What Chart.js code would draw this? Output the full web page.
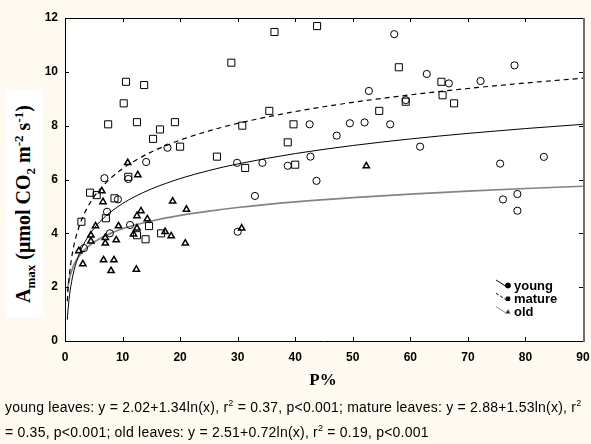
<!DOCTYPE html>
<html>
<head>
<meta charset="utf-8">
<script src="https://cdn.jsdelivr.net/npm/chart.js@4.4.1/dist/chart.umd.min.js"></script>
<style>
  body { margin: 0; background: #fffaef; }
  #wrap { position: relative; width: 591px; height: 444px; overflow: hidden; }
  #chart { position: absolute; left: 0; top: 0; }
  .ytitle { position: absolute; left: 6px; top: 90px; width: 37px; height: 227px; background: #fff; }
  .ytitle span {
    position: absolute; left: 50%; top: 50%;
    transform: translate(-50%, -50%) rotate(-90deg);
    white-space: nowrap; font: bold 20px "Liberation Serif", "Times New Roman", serif; color: #000;
  }
  .ytitle sub, .ytitle sup { font-size: 13px; }
  .xtitle { position: absolute; left: 0; width: 646px; top: 370px; text-align: center;
    font: bold 17px "Liberation Serif", "Times New Roman", serif; }
  .caption { position: absolute; left: 5px; white-space: nowrap; letter-spacing: 0.22px;
    font: 14px "Liberation Sans", Arial, sans-serif; color: #000; }
  .caption sup { font-size: 9px; }
</style>
</head>
<body>
<div id="wrap">
  <canvas id="chart" width="591" height="444"></canvas>
  <div class="ytitle"><span>A<sub>max</sub> (μmol CO<sub>2</sub> m<sup>-2</sup> s<sup>-1</sup>)</span></div>
  <div class="xtitle">P%</div>
  <div class="caption" style="top:398px">young leaves: y = 2.02+1.34ln(x), r<sup>2</sup> = 0.37, p&lt;0.001; mature leaves: y = 2.88+1.53ln(x), r<sup>2</sup></div>
  <div class="caption" style="top:423px">= 0.35, p&lt;0.001; old leaves: y = 2.51+0.72ln(x), r<sup>2</sup> = 0.19, p&lt;0.001</div>
</div>
<script>
// measured leaves, P% vs Amax
const youngX = [14.1, 17.8, 6.85, 11.0, 9.2, 7.3, 11.3, 7.8, 3.3, 29.9, 34.3, 38.7, 42.65, 42.5, 33.0, 30.0,
  57.2, 62.85, 52.8, 59.2, 49.5, 52.05, 56.5, 47.2, 61.7, 43.7, 66.7, 72.2, 78.1, 75.6, 83.2, 76.1, 78.6, 78.6];
const youngY = [6.65, 7.18, 6.05, 6.02, 5.26, 4.80, 4.31, 4.0, 3.45, 6.62, 6.62, 6.51, 6.85, 8.05, 5.39, 4.06,
  11.40, 9.92, 9.29, 8.95, 8.09, 8.12, 8.05, 7.63, 7.22, 5.95, 9.57, 9.66, 10.24, 6.59, 6.84, 5.26, 5.46, 4.84];

const matureX = [10.6, 13.75, 10.2, 7.5, 12.5, 16.5, 19.1, 15.3, 20.0, 11.0, 4.35, 5.5, 8.6, 7.1, 2.85, 14.6,
  12.5, 14.0, 16.7, 36.4, 28.9, 35.5, 30.8, 39.7, 38.7, 26.4, 31.3, 40.0, 43.8, 58.0, 59.2, 54.6, 65.4, 65.6, 67.6];
const matureY = [9.63, 9.51, 8.83, 8.05, 8.13, 7.86, 8.13, 7.51, 7.22, 6.10, 5.51, 5.42, 5.30, 4.56, 4.43, 4.27,
  3.93, 3.78, 4.0, 11.48, 10.34, 8.55, 8.0, 8.05, 7.38, 6.85, 6.43, 6.55, 11.70, 10.17, 8.89, 8.55, 9.63, 9.13, 8.83];

const oldX = [10.9, 12.65, 6.4, 6.6, 18.7, 21.1, 13.2, 12.5, 14.3, 5.3, 9.3, 4.5, 12.5, 11.9, 4.5, 8.9, 7.0, 7.0,
  17.4, 18.45, 2.4, 3.1, 6.7, 8.5, 8.0, 12.4, 20.9, 30.7, 52.35];
const oldY = [6.62, 6.17, 5.57, 5.17, 5.19, 4.89, 4.83, 4.65, 4.53, 4.27, 4.27, 3.93, 4.19, 3.97, 3.71, 3.75, 3.84, 3.63,
  4.06, 3.90, 3.35, 2.86, 3.01, 3.01, 2.61, 2.66, 3.63, 4.19, 6.50];

// fitted curves y = a + b ln(x)
const youngFit = { a: 2.02, b: 1.34 };
const matureFit = { a: 2.88, b: 1.53 };
const oldFit = { a: 2.51, b: 0.72 };
const fitX = [0.4, 0.5, 0.6, 0.8, 1, 1.3, 1.6, 2, 2.5, 3, 4, 5, 6, 8, 10, 12, 15, 20, 25, 30, 40, 50, 60, 70, 80, 90];

const xTicks = [0, 10, 20, 30, 40, 50, 60, 70, 80, 90];
const yTicks = [0, 2, 4, 6, 8, 10, 12];

const legendItems = [
  { text: 'young', color: '#000', dash: [], style: 'circle' },
  { text: 'mature', color: '#000', dash: [3, 2], style: 'rect' },
  { text: 'old', color: '#8c8c8c', dash: [], style: 'triangle' }
];

const toPoints = (xs, ys) => xs.map((x, i) => ({ x: x, y: ys[i] }));
const fitPoints = (f) => fitX.map(x => ({ x: x, y: f.a + f.b * Math.log(x) }));

// white plot area, frame and inward tick marks
const framePlugin = {
  id: 'frame',
  beforeDatasetsDraw(chart) {
    const { ctx, chartArea: a } = chart;
    ctx.save();
    ctx.fillStyle = '#fff';
    ctx.fillRect(a.left, a.top, a.right - a.left, a.bottom - a.top);
    ctx.restore();
  },
  afterDatasetsDraw(chart) {
    const { ctx, chartArea: a, scales } = chart;
    ctx.save();
    ctx.setLineDash([]);
    ctx.strokeStyle = '#000';
    ctx.lineWidth = 1;
    ctx.beginPath();
    xTicks.forEach(v => {
      const px = Math.round(scales.x.getPixelForValue(v)) + 0.5;
      ctx.moveTo(px, a.bottom); ctx.lineTo(px, a.bottom - 4);
      ctx.moveTo(px, a.top); ctx.lineTo(px, a.top + 4);
    });
    yTicks.forEach(v => {
      const py = Math.round(scales.y.getPixelForValue(v)) + 0.5;
      ctx.moveTo(a.left, py); ctx.lineTo(a.left + 4, py);
      ctx.moveTo(a.right, py); ctx.lineTo(a.right - 4, py);
    });
    ctx.stroke();
    ctx.beginPath();
    ctx.moveTo(a.right, a.top + 0.5);
    ctx.lineTo(a.left + 0.5, a.top + 0.5);
    ctx.lineTo(a.left + 0.5, a.bottom + 0.5);
    ctx.lineTo(a.right, a.bottom + 0.5);
    ctx.stroke();
    ctx.strokeStyle = '#6e6e6e';
    ctx.lineWidth = 2;
    ctx.beginPath();
    ctx.moveTo(a.right + 1, a.top);
    ctx.lineTo(a.right + 1, a.bottom + 1);
    ctx.stroke();
    ctx.restore();
  }
};

// small legend in the lower right corner
const legendPlugin = {
  id: 'cornerLegend',
  afterDraw(chart) {
    const ctx = chart.ctx;
    ctx.save();
    ctx.font = 'bold 13px "Liberation Sans", Arial, sans-serif';
    ctx.textBaseline = 'middle';
    legendItems.forEach((it, i) => {
      const y = 286 + i * 13.3;
      ctx.strokeStyle = it.color;
      ctx.lineWidth = 1;
      ctx.setLineDash(it.dash);
      ctx.beginPath();
      ctx.moveTo(496, y - 6);
      ctx.lineTo(507, y + 1);
      ctx.stroke();
      ctx.setLineDash([]);
      Chart.helpers.drawPoint(ctx, { pointStyle: it.style, radius: 2.5, borderWidth: 1 }, 508, y - 0.5);
      ctx.fillStyle = '#000';
      ctx.fillText(it.text, 514, y);
    });
    ctx.restore();
  }
};

Chart.defaults.color = '#000';
Chart.defaults.font.family = '"Liberation Sans", Arial, sans-serif';

new Chart(document.getElementById('chart'), {
  type: 'scatter',
  data: {
    datasets: [
      {
        label: 'young', data: toPoints(youngX, youngY),
        pointStyle: 'circle', pointRadius: 3.6, borderColor: '#000', backgroundColor: 'rgba(0,0,0,0)', borderWidth: 1
      },
      {
        label: 'mature', data: toPoints(matureX, matureY),
        pointStyle: 'rect', pointRadius: 5, borderColor: '#000', backgroundColor: 'rgba(0,0,0,0)', borderWidth: 1
      },
      {
        label: 'old', data: toPoints(oldX, oldY),
        pointStyle: 'triangle', pointRadius: 3.6, borderColor: '#000', backgroundColor: 'rgba(0,0,0,0)', borderWidth: 1.5
      },
      {
        label: 'young fit', data: fitPoints(youngFit), showLine: true, pointRadius: 0,
        borderColor: '#000', borderWidth: 1, cubicInterpolationMode: 'monotone'
      },
      {
        label: 'mature fit', data: fitPoints(matureFit), showLine: true, pointRadius: 0,
        borderColor: '#000', borderWidth: 1.2, borderDash: [5, 4], cubicInterpolationMode: 'monotone'
      },
      {
        label: 'old fit', data: fitPoints(oldFit), showLine: true, pointRadius: 0,
        borderColor: '#848484', borderWidth: 1.7, cubicInterpolationMode: 'monotone'
      }
    ]
  },
  options: {
    responsive: false,
    animation: false,
    events: [],
    layout: { padding: { left: 0, right: 8, top: 18, bottom: 0 } },
    plugins: { legend: { display: false }, tooltip: { enabled: false } },
    scales: {
      x: {
        type: 'linear', min: 0, max: 90,
        afterBuildTicks: s => { s.ticks = xTicks.map(v => ({ value: v })); },
        afterFit: s => { s.height = 103; s.paddingLeft = 0; s.paddingRight = 0; },
        grid: { display: false, drawTicks: false },
        border: { display: false },
        ticks: { padding: 9, font: { size: 12, weight: 'bold' } }
      },
      y: {
        type: 'linear', min: 0, max: 12,
        afterBuildTicks: s => { s.ticks = yTicks.map(v => ({ value: v })); },
        afterFit: s => { s.width = 65; s.paddingTop = 0; s.paddingBottom = 0; },
        grid: { display: false, drawTicks: false },
        border: { display: false },
        ticks: { padding: 7, font: { size: 12, weight: 'bold' } }
      }
    }
  },
  plugins: [framePlugin, legendPlugin]
});
</script>
</body>
</html>
